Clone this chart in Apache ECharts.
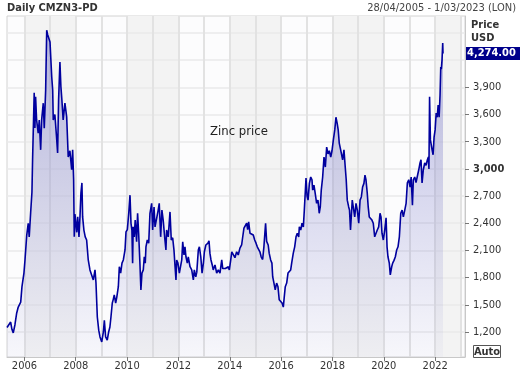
<!DOCTYPE html>
<html>
<head>
<meta charset="utf-8">
<script src="https://cdn.jsdelivr.net/npm/echarts@6/dist/echarts.min.js"></script>
<style>
html,body{margin:0;padding:0;background:#ffffff;}
#chart{width:521px;height:374px;}
</style>
</head>
<body>
<div id="chart"></div>
<script>
// ---------- data ----------
const titleText = 'Daily CMZN3-PD';
const rangeText = '28/04/2005 - 1/03/2023 (LON)';
const annotationText = 'Zinc price';
const axisTitle = 'Price';
const axisUnit = 'USD';
const autoText = 'Auto';
const rangeStart = '2005-04-28';
const rangeEnd = '2023-03-01';

const dates = [
'2005-04-28','2005-05-16','2005-06-19','2005-07-07','2005-07-26','2005-08-19','2005-09-13','2005-10-05','2005-11-09','2005-11-27','2005-12-25',
'2006-01-09','2006-02-03','2006-02-24','2006-03-10','2006-03-30','2006-04-18','2006-04-27','2006-05-06','2006-05-20','2006-05-30','2006-06-09','2006-06-23','2006-07-16','2006-07-31','2006-08-20','2006-09-03','2006-09-26','2006-10-10','2006-10-30','2006-11-14','2006-11-28','2006-12-16','2006-12-31',
'2007-01-10','2007-01-24','2007-02-07','2007-02-15','2007-03-10','2007-04-03','2007-04-18','2007-05-02','2007-05-21','2007-06-04','2007-06-18','2007-07-06','2007-07-31','2007-08-25','2007-09-16','2007-10-10','2007-11-04','2007-11-18','2007-12-02','2007-12-11','2007-12-21',
'2008-01-15','2008-01-29','2008-02-16','2008-03-01','2008-03-15','2008-03-29','2008-04-08','2008-04-26','2008-05-15','2008-06-04','2008-06-27','2008-07-21','2008-08-15','2008-09-07','2008-10-01','2008-10-15','2008-11-03','2008-11-23','2008-12-11',
'2009-01-05','2009-01-28','2009-02-11','2009-03-01','2009-03-24','2009-04-13','2009-05-01','2009-05-16','2009-06-04','2009-06-18','2009-07-02','2009-07-22','2009-08-06','2009-08-29','2009-09-12','2009-10-01','2009-10-20','2009-11-08','2009-12-02','2009-12-16',
'2010-01-04','2010-01-24','2010-02-11','2010-02-25','2010-03-10','2010-03-20','2010-03-28','2010-04-12','2010-04-26','2010-05-16','2010-05-30','2010-06-14','2010-07-02','2010-07-16','2010-07-31','2010-08-19','2010-09-02','2010-09-16','2010-09-26','2010-10-15','2010-11-04','2010-11-22','2010-12-16','2010-12-30',
'2011-01-19','2011-02-02','2011-02-25','2011-03-19','2011-04-03','2011-04-23','2011-05-11','2011-05-29','2011-06-23','2011-07-07','2011-07-17','2011-08-09','2011-09-03','2011-09-21','2011-10-11','2011-10-30','2011-11-14','2011-11-27','2011-12-07','2011-12-25',
'2012-01-14','2012-02-03','2012-02-17','2012-03-02','2012-03-20','2012-04-03','2012-04-17','2012-05-06','2012-05-20','2012-06-14','2012-07-08','2012-07-31','2012-08-14','2012-09-04','2012-09-18','2012-10-10','2012-10-25','2012-11-14','2012-12-02','2012-12-21',
'2013-01-04','2013-01-25','2013-02-08','2013-02-24','2013-03-11','2013-03-24','2013-04-08','2013-04-26','2013-05-10','2013-06-04','2013-06-28','2013-07-21','2013-08-14','2013-09-08','2013-09-22','2013-10-10','2013-10-29','2013-11-18','2013-12-11','2013-12-25',
'2014-01-14','2014-01-29','2014-02-19','2014-03-15','2014-04-08','2014-05-01','2014-05-25','2014-06-18','2014-07-02','2014-07-21','2014-08-09','2014-08-29','2014-09-12','2014-09-26','2014-10-15','2014-11-08','2014-12-01','2014-12-21',
'2015-01-09','2015-01-27','2015-02-16','2015-03-05','2015-03-23','2015-04-13','2015-05-01','2015-05-11','2015-05-25','2015-06-09','2015-07-01','2015-07-15','2015-08-05','2015-08-23','2015-09-03','2015-09-21','2015-10-09','2015-10-29','2015-11-17','2015-12-05','2015-12-25',
'2016-01-14','2016-02-01','2016-02-15','2016-02-29','2016-03-20','2016-04-08','2016-04-26','2016-05-16','2016-05-30','2016-06-22','2016-07-12','2016-07-31','2016-08-18','2016-09-07','2016-09-16','2016-10-06','2016-10-24','2016-11-12','2016-11-26','2016-12-11','2016-12-20',
'2017-01-04','2017-01-18','2017-02-06','2017-02-25','2017-03-15','2017-03-25','2017-04-12','2017-04-30','2017-05-20','2017-06-08','2017-06-26','2017-07-11','2017-07-25','2017-08-14','2017-09-02','2017-09-21','2017-10-10','2017-10-29','2017-11-17','2017-12-07','2017-12-25',
'2018-01-13','2018-02-02','2018-02-19','2018-03-09','2018-03-23','2018-04-07','2018-04-27','2018-05-11','2018-05-25','2018-06-13','2018-07-01','2018-07-15','2018-07-30','2018-08-19','2018-08-31','2018-09-14','2018-10-09','2018-10-29','2018-11-13','2018-12-01','2018-12-20',
'2019-01-09','2019-01-28','2019-02-15','2019-03-05','2019-03-24','2019-04-08','2019-04-22','2019-05-10','2019-05-24','2019-06-08','2019-06-28','2019-07-16','2019-08-04','2019-08-24','2019-09-12','2019-09-30','2019-10-20','2019-11-08','2019-11-22','2019-12-06','2019-12-25',
'2020-01-14','2020-02-02','2020-02-16','2020-02-29','2020-03-19','2020-04-02','2020-04-22','2020-05-06','2020-05-25','2020-06-13','2020-07-02','2020-07-21','2020-08-09','2020-08-29','2020-09-17','2020-10-05','2020-10-25','2020-11-13','2020-12-01','2020-12-21',
'2021-01-09','2021-01-24','2021-02-11','2021-02-24','2021-03-16','2021-04-03','2021-04-21','2021-05-12','2021-05-30','2021-06-13','2021-06-28','2021-07-16','2021-08-05','2021-08-24','2021-09-12','2021-09-26','2021-10-04','2021-10-13','2021-10-25','2021-11-18','2021-12-02','2021-12-16','2021-12-31',
'2022-01-15','2022-01-29','2022-02-12','2022-02-26','2022-03-11','2022-03-21','2022-03-29','2022-04-08','2022-04-18','2022-04-22'
];

const prices = [
1250,1245,1310,1230,1190,1280,1410,1475,1530,1700,1850,
1995,2270,2400,2250,2510,2745,3100,3395,3840,3450,3795,3540,3395,3540,3210,3540,3725,3450,3870,4530,4480,4500,4400,
4240,4020,3870,3540,3600,3350,3175,3760,4180,3905,3760,3540,3725,3575,3130,3200,2990,3210,2880,2250,2500,
2300,2470,2250,2470,2735,2845,2470,2325,2250,2215,1995,1885,1885,1775,1885,1740,1365,1220,1145,
1090,1200,1330,1145,1110,1200,1255,1365,1520,1560,1610,1520,1580,1700,1920,1850,1960,1995,2105,2305,
2330,2510,2710,2400,2325,1960,2360,2250,2435,2195,2510,2290,1960,1665,1850,1885,2030,1960,2140,2215,2180,2510,2620,2325,
2580,2360,2360,2545,2620,2250,2545,2435,2215,2105,2325,2250,2525,2215,2240,2100,1920,1775,1995,1960,
1850,1830,1995,2195,2050,2140,2030,1960,2030,1920,1885,1775,1885,1810,1860,2105,2140,2030,1850,1960,
2085,2160,2140,2180,2205,2070,1995,1940,1885,1940,1850,1885,1850,1995,1900,1885,1900,1885,1920,1885,
1995,2085,2070,2020,2085,2050,2125,2160,2240,2345,2360,2400,2330,2415,2290,2305,2270,2215,
2180,2140,2160,2085,2030,2000,2140,2250,2400,2200,2160,2070,1995,1960,1810,1740,1665,1740,1700,1555,1575,
1520,1475,1590,1700,1740,1850,1870,1885,1960,2070,2140,2250,2290,2250,2360,2325,2400,2360,2545,2765,2900,
2700,2655,2840,2910,2880,2765,2820,2730,2620,2655,2510,2580,2765,2910,3130,3020,3240,3165,3200,3130,3200,
3320,3430,3570,3500,3430,3285,3210,3155,3100,3210,3020,2880,2655,2580,2545,2325,2655,2660,2470,2620,2545,
2400,2655,2690,2800,2840,2930,2880,2735,2580,2470,2490,2435,2400,2250,2230,2325,2360,2510,2470,2290,2215,
2325,2460,2140,2030,1960,1830,1920,1960,1990,2030,2105,2140,2250,2510,2545,2470,2545,2620,2845,2880,
2800,2910,2600,2880,2910,2850,2870,2990,3065,3100,2845,2990,3065,3040,3100,3130,3000,3795,3320,3210,3155,3350,3430,
3615,3570,3705,3570,3815,4125,4100,4200,4390,4274
];

const yLabelValues = [1200,1500,1800,2100,2400,2700,3000,3300,3600,3900];
const yGridValues = [1200,1500,1800,2100,2400,2700,3000,3300,3600,3900,4200,4500];
const boldYValue = 3000;
const xLabelYears = [2006,2008,2010,2012,2014,2016,2018,2020,2022];
const yearLines = [2006,2007,2008,2009,2010,2011,2012,2013,2014,2015,2016,2017,2018,2019,2020,2021,2022,2023];
const shadedYears = [2006,2007,2010,2011,2014,2015,2018,2019,2022];
const yMin = 924;
const yMax = 4687;

// ---------- build ----------
const FONT = "'DejaVu Sans Condensed','Liberation Sans',sans-serif";
const toTs = d => Date.parse(d + 'T00:00:00Z');
const jan1 = y => Date.UTC(y, 0, 1);
const xMin = toTs(rangeStart);
const xMax = toTs(rangeEnd);
const seriesData = dates.map((d, i) => [toTs(d), prices[i]]);
const fmt = v => String(v).replace(/\B(?=(\d{3})+(?!\d))/g, ',');

const chart = echarts.init(document.getElementById('chart'), null, {renderer: 'canvas'});

const option = {
  animation: false,
  backgroundColor: '#ffffff',
  grid: {
    left: 7, right: 56, top: 16, bottom: 17,
    show: true, backgroundColor: '#fcfcfd', borderColor: '#d2d2d2', borderWidth: 1
  },
  xAxis: {
    type: 'value', min: xMin, max: xMax,
    axisLine: {show: true, lineStyle: {color: '#c8c8c8', width: 1}},
    axisTick: {show: true, customValues: xLabelYears.map(jan1), length: 4, lineStyle: {color: '#777'}},
    axisLabel: {
      customValues: xLabelYears.map(jan1), margin: 4,
      formatter: v => String(new Date(v).getUTCFullYear()),
      color: '#333', fontSize: 11, fontFamily: FONT
    },
    splitLine: {show: false}
  },
  yAxis: {
    type: 'value', position: 'right', min: yMin, max: yMax, scale: true,
    axisLine: {show: true, lineStyle: {color: '#c8c8c8', width: 1}},
    axisTick: {show: true, customValues: yLabelValues, length: 4, lineStyle: {color: '#777'}},
    axisLabel: {
      customValues: yLabelValues, margin: 8,
      formatter: v => v === boldYValue ? '{b|' + fmt(v) + '}' : fmt(v),
      color: '#333', fontSize: 11, fontFamily: FONT,
      rich: {b: {fontWeight: 'bold', color: '#333', fontSize: 11, fontFamily: FONT}}
    },
    splitLine: {show: false}
  },
  series: [
    {
      type: 'line', z: 0, silent: true, data: seriesData, showSymbol: false,
      lineStyle: {opacity: 0, width: 0},
      markArea: {
        z: 0,
        silent: true,
        itemStyle: {color: '#f3f3f3'},
        data: shadedYears.map(y => [{xAxis: Math.max(jan1(y), xMin)}, {xAxis: Math.min(jan1(y + 1), xMax)}])
      },
      markLine: {
        z: 1,
        silent: true, symbol: ['none', 'none'], label: {show: false},
        data: yGridValues.map(v => ({yAxis: v, lineStyle: {color: '#eaeaea', width: 1.5, type: 'solid'}}))
          .concat(yearLines.map(y => ({xAxis: jan1(y), lineStyle: {color: '#e2e2e2', width: 2, type: 'solid'}})))
      }
    },
    {
      type: 'line', z: 5, data: seriesData, showSymbol: false, sampling: 'none',
      lineStyle: {color: '#00009e', width: 1.6},
      areaStyle: {
        opacity: 1,
        color: new echarts.graphic.LinearGradient(0, 0, 0, 1, [
          {offset: 0, color: 'rgba(120,120,200,0.5)'},
          {offset: 1, color: 'rgba(120,120,200,0.04)'}
        ])
      }
    }
  ]
};
chart.setOption(option);

const lastPrice = prices[prices.length - 1];
const yLast = chart.convertToPixel({yAxisIndex: 0}, lastPrice);
const plotRight = 521 - 56;

chart.setOption({
  graphic: {elements: [
    {type: 'text', z: 100, left: 7, top: 3, style: {text: titleText, font: 'bold 11px ' + FONT, fill: '#333'}},
    {type: 'text', z: 100, right: 5, top: 3, style: {text: rangeText, font: '11px ' + FONT, fill: '#444'}},
    {type: 'text', z: 100, left: plotRight + 6, top: 20, style: {text: axisTitle, font: 'bold 11px ' + FONT, fill: '#333'}},
    {type: 'text', z: 100, left: plotRight + 6, top: 33, style: {text: axisUnit, font: 'bold 11px ' + FONT, fill: '#333'}},
    {type: 'rect', z: 100, shape: {x: plotRight + 1, y: yLast - 6.5, width: 54, height: 13}, style: {fill: '#00008b'}},
    {type: 'text', z: 101, x: plotRight + 2, y: yLast, style: {text: fmt(lastPrice.toFixed(2)).replace(/,(\d\d)$/, '.$1'), font: 'bold 11px ' + FONT, fill: '#fff', verticalAlign: 'middle'}},
    {type: 'text', z: 100, left: 210, top: 125, style: {text: annotationText, font: '13px ' + FONT, fill: '#222'}},
    {type: 'rect', z: 100, shape: {x: 473.5, y: 345.5, width: 27, height: 12}, style: {fill: '#fff', stroke: '#555', lineWidth: 1}},
    {type: 'text', z: 101, x: 487, y: 352, style: {text: autoText, font: 'bold 11px ' + FONT, fill: '#333', align: 'center', verticalAlign: 'middle'}}
  ]}
});
</script>
</body>
</html>
